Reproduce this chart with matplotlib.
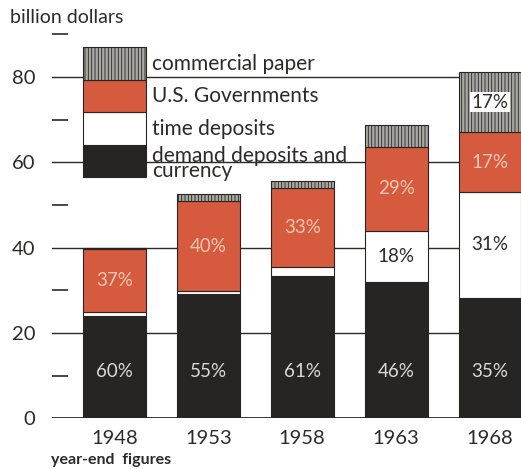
import matplotlib.pyplot as plt
import numpy as np
from matplotlib.ticker import MultipleLocator

plt.rcParams['font.family'] = ['Lato', 'DejaVu Sans']
plt.rcParams['hatch.linewidth'] = 0.6

years = ['1948', '1953', '1958', '1963', '1968']
# billion dollars, year-end
demand = [24.0, 29.2, 33.4, 32.0, 28.3]
time_dep = [0.9, 0.7, 2.0, 11.9, 24.8]
govts = [14.7, 21.0, 18.5, 19.8, 13.9]
paper = [0.4, 1.7, 1.8, 5.0, 14.2]

pct_demand = ['60%', '55%', '61%', '46%', '35%']
pct_time = ['', '', '', '18%', '31%']
pct_govts = ['37%', '40%', '33%', '29%', '17%']
pct_paper = ['', '', '', '', '17%']

legend_labels = ['demand deposits and\ncurrency', 'time deposits', 'U.S. Governments', 'commercial paper']

ink = '#2b2a28'
red = '#d65a3e'
blk = '#262523'
grey = '#a9a7a1'

fig = plt.figure(figsize=(5.21, 4.69), dpi=100)
ax = fig.add_axes([0.0998, 0.1077, 0.9002, 0.8375])

x = np.arange(len(years))
w = 0.67
demand = np.array(demand)
time_dep = np.array(time_dep)
govts = np.array(govts)
paper = np.array(paper)

b1 = demand
b2 = b1 + time_dep
b3 = b2 + govts

ax.bar(x, demand, w, color=blk, edgecolor=blk, lw=0.8, zorder=3)
ax.bar(x, time_dep, w, bottom=b1, color='white', edgecolor=blk, lw=0.8, zorder=3)
ax.bar(x, govts, w, bottom=b2, color=red, edgecolor=blk, lw=0.8, zorder=3)
ax.bar(x, paper, w, bottom=b3, color=grey, edgecolor=blk, hatch='|||||', lw=0.8, zorder=3)

for i in range(len(years)):
    ax.text(x[i], 11, pct_demand[i], ha='center', va='center', color='#dcdad4', fontsize=13.5, zorder=5)
    if pct_time[i]:
        ax.text(x[i], b1[i] + time_dep[i] / 2, pct_time[i], ha='center', va='center', color=ink, fontsize=13.5, zorder=5)
    ax.text(x[i], b2[i] + govts[i] / 2, pct_govts[i], ha='center', va='center', color='#f6c9b2', fontsize=13.5, zorder=5)
    if pct_paper[i]:
        ax.text(x[i], b3[i] + paper[i] / 2, pct_paper[i], ha='center', va='center', color=ink, fontsize=13.5, zorder=5,
                bbox=dict(facecolor='white', edgecolor='none', pad=1))

# key box drawn in the first column
key_bottom = 56.5
key_step = 7.6
key_colors = [blk, 'white', red, grey]
key_hatch = [None, None, None, '|||||']
for k in range(4):
    ax.bar(x[0], key_step, w, bottom=key_bottom + k * key_step, color=key_colors[k], edgecolor=blk,
           hatch=key_hatch[k], lw=0.8, zorder=4)
    ax.text(x[0] + 0.40, key_bottom + (k + 0.5) * key_step - (0.6 if k == 0 else 0), legend_labels[k],
            ha='left', va='center', fontsize=15, color=ink, linespacing=0.72, zorder=5)

ax.set_xlim(-0.665, 4.33)
ax.set_ylim(0, 92)
ax.set_xticks(x)
ax.set_xticklabels(years, fontsize=14.5, color=ink)
ax.set_yticks([0, 20, 40, 60, 80])
ax.set_yticklabels(['0', '20', '40', '60', '80'], fontsize=14.5, color=ink)
ax.yaxis.set_minor_locator(MultipleLocator(10))
ax.tick_params(axis='y', which='major', length=0, pad=12)
ax.tick_params(axis='y', which='minor', direction='in', length=11.5, width=1.2, color=ink)
ax.tick_params(axis='x', length=0, pad=8)
for s in ax.spines.values():
    s.set_visible(False)
ax.axhline(0, color=ink, lw=1.3, zorder=2)
for yv in [20, 40, 60, 80]:
    ax.axhline(yv, color=ink, lw=1.0, zorder=1)

fig.text(0.019, 0.962, 'billion dollars', fontsize=14, color=ink, ha='left', va='center')
fig.text(0.098, 0.019, 'year-end  figures', fontsize=11.5, fontweight='bold', color=ink, ha='left', va='center')

fig.savefig('out.png', dpi=100, facecolor='white')
